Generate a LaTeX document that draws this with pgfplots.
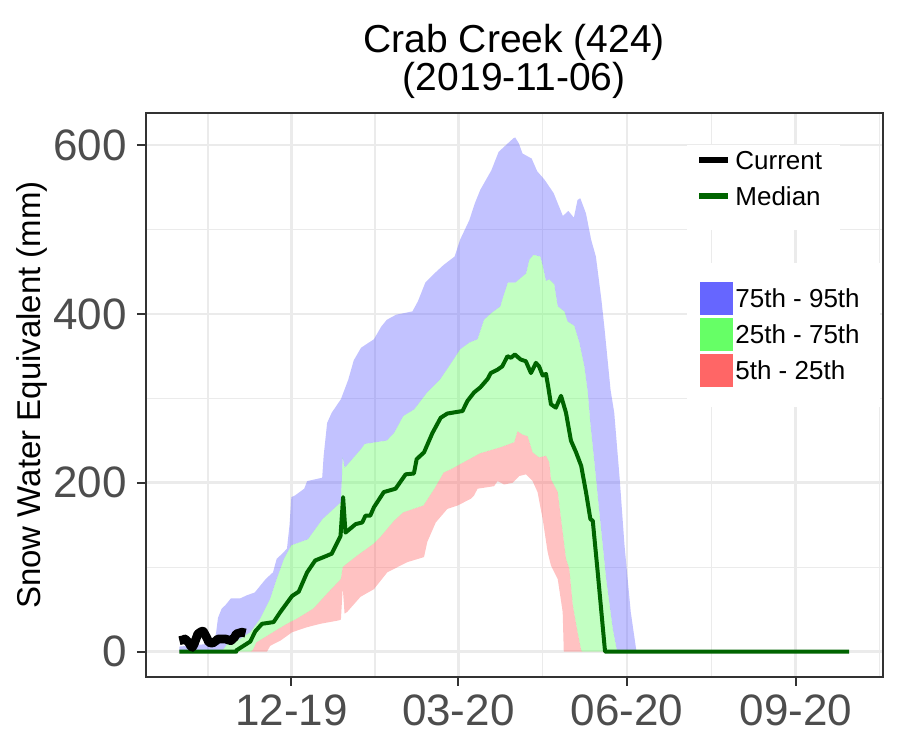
\documentclass[border=0pt]{standalone}
\usepackage{fontspec}
\setmainfont{Liberation Sans}
\usepackage{pgfplots}
\pgfplotsset{compat=1.18}
\usepgfplotslibrary{fillbetween}

\definecolor{gridgray}{HTML}{EBEBEB}
\definecolor{framegray}{HTML}{333333}
\definecolor{labgray}{HTML}{4D4D4D}
\definecolor{p95col}{HTML}{6666FF}
\definecolor{p75col}{HTML}{66FF66}
\definecolor{p25col}{HTML}{FF6666}
\definecolor{medgreen}{HTML}{006400}

\begin{document}
\begin{tikzpicture}
\begin{axis}[
  scale only axis, width=368.25pt, height=282pt,
  xmin=-18.25, xmax=383.25, ymin=-30, ymax=638,
  xtick={61,152,244,336}, xticklabels={12-19,03-20,06-20,09-20},
  minor xtick={15.5,106.5,198,290,381.5},
  ytick={0,200,400,600}, minor ytick={100,300,500},
  grid=both,
  major grid style={gridgray, line width=1.4pt},
  minor grid style={gridgray, line width=0.7pt},
  axis line style={framegray, line width=1pt},
  tick align=outside, xtick pos=bottom, ytick pos=left,
  major tick length=4.5pt, minor tick length=0pt,
  major tick style={framegray, line width=1.1pt},
  /pgf/number format/assume math mode=true,
  ticklabel style={font=\fontsize{22}{26}\selectfont, text=labgray, inner sep=0pt},
  xticklabel style={anchor=north, yshift=-4pt, text height=15.8pt, text depth=0pt},
  yticklabel style={anchor=east, xshift=-4.85pt},
  legend image code/.code={\draw[#1] (0pt,0pt) -- (14.5pt,0pt);},
  legend cell align=left,
  legend style={at={(0.7468,0.9332)}, anchor=north west, draw=none, fill=none,
    inner sep=0pt, row sep=8.7pt, column sep=2pt,
    font=\fontsize{13}{15}\selectfont,
    nodes={inner sep=0pt, text height=9.3pt, text depth=0pt}},
]
\coordinate (bl) at (rel axis cs:0,0);
\coordinate (tr) at (rel axis cs:1,1);
\coordinate (tc) at (rel axis cs:0.5,1);
\coordinate (lm) at (rel axis cs:0,0.5);

% percentile envelopes
\addplot[draw=none, name path=p95, forget plot] coordinates {
(0,6) (5,7) (10,8) (15,9) (19,12) (20,23) (21,40) (23,51) (25,55) (28,63) (33,63) (37,67) (41,70) (44,78) (47,86) (51,94) (53,110) (56,116) (58.6,122) (60,150) (61,183) (63,185) (68,193) (69.6,202) (77.8,206) (78.6,232) (80.5,271) (83,283) (88,299) (92,322) (95,345) (99,360) (106,370) (110,385) (113,393) (118,399) (127,403) (130,415) (134,437) (139,448) (144,458) (150,468) (153,488) (158,511) (161,531) (164,547) (170,570) (174,592) (179,602) (182,608) (183,609) (185,602) (187,590) (192,584) (195,569) (199,559) (204,543) (209,516) (212,522) (215,514) (217,535) (218.5,537) (221.6,519) (224.4,488) (227,468) (230,417) (231.6,385) (235,310) (237,283) (240,204) (242.6,126) (246,47) (249,2) (250,0) (365,0)};
\addplot[draw=none, name path=p75, forget plot] coordinates {
(0,0) (22,0) (24,3) (26.7,11) (33,15) (38.6,23) (44,39) (49.5,63) (53,86) (57,110) (61,126) (70,133) (78,157) (82,165) (88,177) (89,230) (90,218) (91,220) (99,240) (101,246) (113,250) (117,259) (122,279) (128,287) (135,307) (142,322) (150,348) (153,358) (158,366) (162.5,370) (166,393) (170,401) (175,409) (176,417) (179,437) (183,437) (189,448) (190.7,464) (193,470) (196.7,468) (198,457) (199.8,439) (201.6,441) (204.3,435) (206.2,409) (209.8,403) (211.6,391) (215.2,386) (218,366) (220.7,338) (222.6,307) (224,270) (226.2,224) (228.9,165) (232.6,86) (236.2,27) (238.4,2) (239,0) (365,0)};
\addplot[draw=none, name path=p25, forget plot] coordinates {
(0,0) (39,0) (40,2) (42,11) (51,23) (58.6,33) (64,39) (73,51) (81,70) (88,86) (89,100) (90,102) (97,114) (106,128) (110,137) (117,155) (122,165) (133,173) (139,193) (144,212) (148,216) (153,222) (164,235) (175,242) (182.5,248) (184.3,261) (187,257) (189.8,255) (192.5,236) (196,230) (199.8,232) (201.6,224) (202.5,204) (206.2,189) (208,157) (210.7,110) (212.5,98) (214.4,55) (217,23) (219,1.5) (219.5,0) (365,0)};
\addplot[draw=none, name path=p05, forget plot] coordinates {
(0,0) (47.7,0) (49.5,7) (55,13) (61.4,23) (69.6,29) (76.8,33) (86.8,37) (88,38) (89,76) (90,45) (91.4,47) (98.7,65) (106,74) (113.3,94) (124.2,106) (133.3,112) (135.1,130) (139.7,153) (146,169) (151.5,173) (158.8,181) (160.6,185) (162.5,193) (171.5,196) (173.4,202) (177,198) (181.6,200) (185.2,208) (188.9,210) (192.5,202) (195.2,189) (198,157) (200.7,118) (202.5,102) (206.2,86) (208.9,47) (209.5,0) (365,0)};

\addplot[fill=p95col, fill opacity=0.4, draw=none, forget plot] fill between[of=p95 and p75];
\addplot[fill=p75col, fill opacity=0.4, draw=none, forget plot] fill between[of=p75 and p25];
\addplot[fill=p25col, fill opacity=0.4, draw=none, forget plot] fill between[of=p25 and p05];

% median
\addplot[medgreen, line width=2pt, line join=round, forget plot] coordinates {
(0,0) (31,0) (31,1.5) (35,7) (38.6,12) (41.3,24) (45,33) (51.3,35) (55,47) (61.4,66) (65,71) (69.6,94) (74,108) (78.6,112) (83,116) (87.8,137) (89.2,183) (90.5,141) (96,151) (99.6,153) (101.4,161) (104,161) (106,171) (111.4,189) (117.8,193) (123.3,210) (127.8,211) (129.3,228) (133.3,236) (137.9,259) (142.4,277) (146,282) (154.3,285) (157,297) (160.6,307) (164,313) (168,323) (169.7,330) (173.4,334) (176,338) (178.8,350) (180.7,348) (182.8,352) (186,346) (188.8,344) (191.6,330) (194.3,342) (196,338) (198,327) (199.8,329) (201,314) (202.5,293) (205.2,289) (208,303) (210.7,283) (213.4,250) (216.2,236) (219,220) (221.6,189) (224,157) (225.3,155) (228,94) (232,0) (365,0)};

% current season
\addplot[black, line width=4.4pt, line join=round, forget plot] coordinates {
(0,13) (2,14) (3,15) (5,11) (6,7) (7,5) (8,9) (10,21) (12,24) (13,24) (15,16) (16,11) (18,10) (20,13) (21,15) (25,15) (28,13) (30,17) (31,21) (34,23) (36,22)};

% legend backgrounds
\fill[white] (rel axis cs:0.7346,0.7926) rectangle (rel axis cs:0.9423,0.9433);
\fill[white] (rel axis cs:0.7346,0.4787) rectangle (rel axis cs:0.9966,0.7340);

\addlegendimage{black, line width=3pt}
\addlegendentry{Current}
\addlegendimage{medgreen, line width=3pt}
\addlegendentry{Median}
\end{axis}

\begin{axis}[
  scale only axis, width=368.25pt, height=282pt,
  hide axis, xmin=0, xmax=1, ymin=0, ymax=1,
  legend image code/.code={\fill[#1] (0pt,-8.25pt) rectangle (16.5pt,8.25pt);},
  legend cell align=left,
  legend style={at={(0.7522,0.7012)}, anchor=north west, draw=none, fill=none,
    inner sep=0pt, row sep=1.5pt, column sep=1pt,
    font=\fontsize{13}{15}\selectfont,
    nodes={inner sep=0pt, text height=9.3pt, text depth=0pt}},
]
\addlegendimage{fill=p95col, draw=none}
\addlegendentry{75th - 95th}
\addlegendimage{fill=p75col, draw=none}
\addlegendentry{25th - 75th}
\addlegendimage{fill=p25col, draw=none}
\addlegendentry{5th - 25th}
\end{axis}

\node[font=\fontsize{19.5}{23}\selectfont, anchor=base] at ([yshift=30pt]tc) {Crab Creek (424)};
\node[font=\fontsize{19.5}{23}\selectfont, anchor=base] at ([yshift=11pt]tc) {(2019-11-06)};
\node[font=\fontsize{16.5}{20}\selectfont, rotate=90, anchor=base] at ([xshift=-52.5pt]lm) {Snow Water Equivalent (mm)};

\pgfresetboundingbox
\path[use as bounding box] ([shift={(-73pt,-36.5pt)}]bl) rectangle ([shift={(8.75pt,56.5pt)}]tr);
\end{tikzpicture}
\end{document}
